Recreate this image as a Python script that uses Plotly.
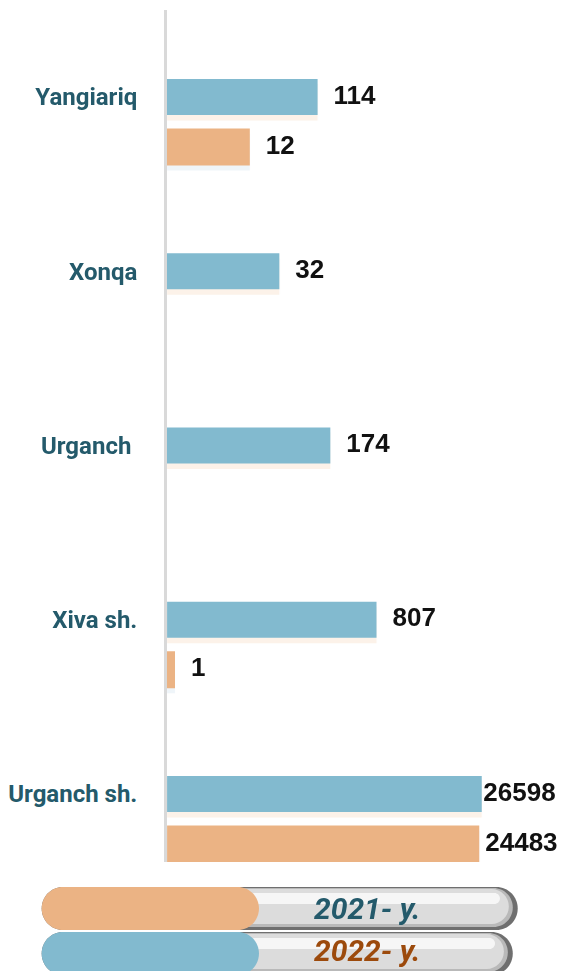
import plotly.graph_objects as go

# ---- data ----
categories = ["Yangiariq", "Xonqa", "Urganch\u00a0", "Xiva sh.", "Urganch sh."]
values_2022 = [114, 32, 174, 807, 26598]
values_2021 = [12, None, None, 1, 24483]
legend_labels = ["2021- y.", "2022- y."]

OFF = 8  # page body margin
W, H = 575 - OFF, 971 - OFF
BLUE = "#82BACF"
ORANGE = "#EBB384"
TEAL = "#245A6B"
BROWN = "#9C4A0C"

pos_2022 = [i for i in range(len(categories))]
pos_2021 = [i + 0.287 for i in range(len(categories))]

def fmt(v):
    return "" if v is None else str(v)

fig = go.Figure()

# soft shadows
fig.add_trace(go.Bar(orientation="h", x=values_2022, y=[p + 0.03 for p in pos_2022],
                     width=0.21, marker=dict(color=ORANGE, line_width=0), opacity=0.18,
                     hoverinfo="skip"))
fig.add_trace(go.Bar(orientation="h", x=values_2021, y=[p + 0.03 for p in pos_2021],
                     width=0.21, marker=dict(color="#c9dcec", line_width=0), opacity=0.3,
                     hoverinfo="skip"))

fig.add_trace(go.Bar(orientation="h", x=values_2022, y=pos_2022, width=0.207,
                     marker=dict(color=BLUE, line_width=0), name="2022", hoverinfo="skip"))
fig.add_trace(go.Bar(orientation="h", x=values_2021, y=pos_2021, width=0.212,
                     marker=dict(color=ORANGE, line_width=0), name="2021", hoverinfo="skip"))

lab_font = dict(family="Liberation Sans, Arial, sans-serif", size=26, color="#111111", weight="bold")
fig.add_trace(go.Scatter(x=values_2022, y=pos_2022, mode="markers+text",
                         text=[fmt(v) for v in values_2022], textposition="middle right",
                         marker=dict(size=[24, 24, 24, 24, 1], opacity=0), textfont=lab_font,
                         cliponaxis=False, hoverinfo="skip"))
fig.add_trace(go.Scatter(x=values_2021, y=pos_2021, mode="markers+text",
                         text=[fmt(v) for v in values_2021], textposition="middle right",
                         marker=dict(size=[24, 24, 24, 24, 8], opacity=0), textfont=lab_font,
                         cliponaxis=False, hoverinfo="skip"))

# ---- helpers for pixel-based pill shapes (reference pixel coords) ----
def P(x, y):
    return (x - OFF) / W, 1 - (y - OFF) / H

def pill_path(x0, y0, x1, y1):
    r = (y1 - y0) / 2
    k = 0.5523 * r
    def pt(x, y):
        px, py = P(x, y)
        return f"{px:.6f},{py:.6f}"
    d = f"M{pt(x0 + r, y0)} L{pt(x1 - r, y0)} "
    d += f"C{pt(x1 - r + k, y0)} {pt(x1, y0 + r - k)} {pt(x1, y0 + r)} "
    d += f"C{pt(x1, y0 + r + k)} {pt(x1 - r + k, y1)} {pt(x1 - r, y1)} "
    d += f"L{pt(x0 + r, y1)} "
    d += f"C{pt(x0 + r - k, y1)} {pt(x0, y0 + r + k)} {pt(x0, y0 + r)} "
    d += f"C{pt(x0, y0 + r - k)} {pt(x0 + r - k, y0)} {pt(x0 + r, y0)} Z"
    return d

shapes = []
pills = [
    (35, 887, 517, 930, ORANGE, legend_labels[0], TEAL, 908),
    (35, 932, 512, 975, BLUE, legend_labels[1], BROWN, 950),
]
annotations = []
for (x0, y0, x1, y1, col, txt, tcol, ty) in pills:
    shapes.append(dict(type="path", path=pill_path(x0, y0, x1, y1), xref="paper", yref="paper",
                       fillcolor="#6f6f6f", line=dict(width=0), layer="above"))
    shapes.append(dict(type="path", path=pill_path(x0 + 1, y0 + 1, x1 - 5, y1 - 3), xref="paper", yref="paper",
                       fillcolor="#b9b9b9", line=dict(width=0), layer="above"))
    shapes.append(dict(type="path", path=pill_path(x0 + 2, y0 + 2, x1 - 9, y1 - 6), xref="paper", yref="paper",
                       fillcolor="#dcdcdc", line=dict(width=0), layer="above"))
    shapes.append(dict(type="path", path=pill_path(x0 + 14, y0 + 6, x1 - 18, y0 + 17), xref="paper", yref="paper",
                       fillcolor="#f7f7f7", line=dict(width=0), layer="above", opacity=0.95))
    shapes.append(dict(type="path", path=pill_path(x0, y0, 255, y1), xref="paper", yref="paper",
                       fillcolor=col, line=dict(width=0), layer="above"))
    cx, cy = P(365, ty)
    annotations.append(dict(x=cx, y=cy, xref="paper", yref="paper", text=txt, showarrow=False,
                            xanchor="center", yanchor="middle",
                            font=dict(family="Roboto, sans-serif", size=30, color=tcol,
                                      weight="bold", style="italic")))

y_top_px, y_bot_px = 10, 862
spacing = 174.25
y_range = [(y_bot_px - 97) / spacing, -(97 - y_top_px) / spacing]

fig.update_layout(
    width=W, height=H,
    margin=dict(l=0, r=0, t=0, b=0),
    paper_bgcolor="white", plot_bgcolor="white",
    showlegend=False, barmode="overlay",
    xaxis=dict(type="log", range=[-0.114, 5.77], domain=[(162 - OFF) / W, 1],
               showticklabels=False, showgrid=False, zeroline=False, showline=False),
    yaxis=dict(range=y_range, domain=[1 - (y_bot_px - OFF) / H, 1 - (y_top_px - OFF) / H],
               tickvals=pos_2022, ticktext=categories, ticks="",
               tickfont=dict(family="Roboto, sans-serif", size=24, color=TEAL, weight="bold"),
               ticklabelstandoff=22, showgrid=False, zeroline=False,
               showline=True, linecolor="#d9d9d9", linewidth=3),
    shapes=shapes, annotations=annotations,
)

fig.write_html("out.html")
